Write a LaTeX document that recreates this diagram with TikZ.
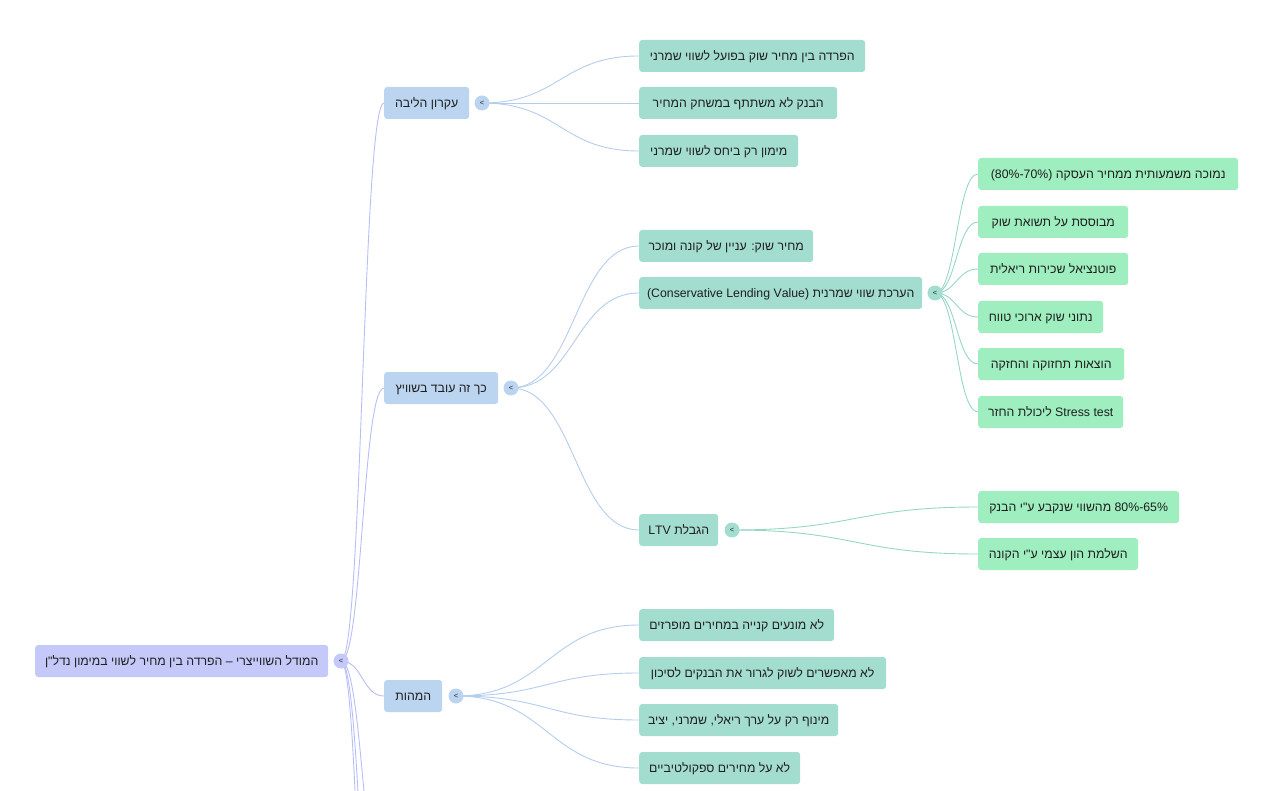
\documentclass[tikz,border=0pt]{standalone}
\usepackage{fontspec}
\newfontfamily\hebfont[Script=Hebrew]{Liberation Sans}
\TeXXeTstate=1
\newcommand{\hebtxt}[1]{\beginR #1\endR}
\definecolor{ink}{RGB}{31,31,31}
\definecolor{rootfill}{RGB}{196,201,250}
\definecolor{rootline}{RGB}{184,190,247}
\definecolor{topicfill}{RGB}{187,212,240}
\definecolor{topicline}{RGB}{180,205,238}
\definecolor{itemfill}{RGB}{163,221,208}
\definecolor{itemline}{RGB}{150,214,198}
\definecolor{leaffill}{RGB}{158,238,192}
\begin{document}
\begin{tikzpicture}[x=1pt, y=-1pt,
  box/.style={rounded corners=3pt, minimum height=32pt, inner xsep=0pt, anchor=west, text=ink, text height=9pt, text depth=0pt, font=\hebfont\fontsize{12.3}{14}\selectfont},
  rootbox/.style={box, fill=rootfill},
  topicbox/.style={box, fill=topicfill},
  itembox/.style={box, fill=itemfill},
  leafbox/.style={box, fill=leaffill},
  toggle/.style={circle, inner sep=0pt, minimum size=15pt, text=ink, font=\hebfont\fontsize{7.5}{8}\selectfont},
  rootlink/.style={draw=rootline, line width=0.9pt},
  topiclink/.style={draw=topicline, line width=0.9pt},
  itemlink/.style={draw=itemline, line width=0.9pt}]
\useasboundingbox (0,0) rectangle (1281,791);
% boxes
\node[rootbox, minimum width=293pt] (root) at (35,661) {\hebtxt{המודל השווייצרי – הפרדה בין מחיר לשווי במימון נדל"ן}};
\node[topicbox, minimum width=85pt] (core) at (384,103) {\hebtxt{עקרון הליבה}};
\node[topicbox, minimum width=114pt] (swiss) at (384,388) {\hebtxt{כך זה עובד בשוויץ}};
\node[topicbox, minimum width=58pt] (essence) at (384,696) {\hebtxt{המהות}};
\node[itembox, minimum width=226pt] (c1) at (639,56) {\hebtxt{הפרדה בין מחיר שוק בפועל לשווי שמרני}};
\node[itembox, minimum width=198pt] (c2) at (639,103) {\hebtxt{הבנק לא משתתף במשחק המחיר}};
\node[itembox, minimum width=159pt] (c3) at (639,151) {\hebtxt{מימון רק ביחס לשווי שמרני}};
\node[itembox, minimum width=174pt] (s1) at (639,246) {\hebtxt{מחיר שוק: עניין של קונה ומוכר}};
\node[itembox, minimum width=283pt] (s2) at (639,293) {\hebtxt{הערכת שווי שמרנית \beginL(Conservative Lending Value)\endL}};
\node[itembox, minimum width=79pt] (s3) at (639,530) {\hebtxt{הגבלת \beginL LTV\endL}};
\node[itembox, minimum width=195pt] (e1) at (639,625) {\hebtxt{לא מונעים קנייה במחירים מופרזים}};
\node[itembox, minimum width=247pt] (e2) at (639,673) {\hebtxt{לא מאפשרים לשוק לגרור את הבנקים לסיכון}};
\node[itembox, minimum width=199pt] (e3) at (639,720) {\hebtxt{מינוף רק על ערך ריאלי, שמרני, יציב}};
\node[itembox, minimum width=161pt] (e4) at (639,768) {\hebtxt{לא על מחירים ספקולטיביים}};
\node[leafbox, minimum width=260pt] (v1) at (978,174) {\hebtxt{נמוכה משמעותית ממחיר העסקה \beginL(70\%-80\%)\endL}};
\node[leafbox, minimum width=150pt] (v2) at (978,222) {\hebtxt{מבוססת על תשואת שוק}};
\node[leafbox, minimum width=150pt] (v3) at (978,269) {\hebtxt{פוטנציאל שכירות ריאלית}};
\node[leafbox, minimum width=125pt] (v4) at (978,317) {\hebtxt{נתוני שוק ארוכי טווח}};
\node[leafbox, minimum width=146pt] (v5) at (978,364) {\hebtxt{הוצאות תחזוקה והחזקה}};
\node[leafbox, minimum width=145pt] (v6) at (978,412) {\hebtxt{\beginL Stress test\endL{} ליכולת החזר}};
\node[leafbox, minimum width=201pt] (l1) at (978,507) {\hebtxt{\beginL 65\%-80\%\endL{} מהשווי שנקבע ע"י הבנק}};
\node[leafbox, minimum width=160pt] (l2) at (978,554) {\hebtxt{השלמת הון עצמי ע"י הקונה}};
% toggle points and branches running off the page
\coordinate (rt) at (341,661);
\coordinate (tc) at (482,103);
\coordinate (ts) at (511,388);
\coordinate (te) at (456,696);
\coordinate (tv) at (935,293);
\coordinate (tl) at (732,530);
\coordinate (o1) at (384,890);
\coordinate (o2) at (384,1097);
\coordinate (o3) at (384,1332);
% links
\draw[rootlink] (rt) .. controls +(21.5,0) and +(-21.5,0) .. (core.west);
\draw[rootlink] (rt) .. controls +(21.5,0) and +(-21.5,0) .. (swiss.west);
\draw[rootlink] (rt) .. controls +(21.5,0) and +(-21.5,0) .. (essence.west);
\draw[rootlink] (rt) .. controls +(21.5,0) and +(-21.5,0) .. (o1);
\draw[rootlink] (rt) .. controls +(21.5,0) and +(-21.5,0) .. (o2);
\draw[rootlink] (rt) .. controls +(21.5,0) and +(-21.5,0) .. (o3);
\draw[topiclink] (tc) .. controls +(78,0) and +(-78,0) .. (c1.west);
\draw[topiclink] (tc) .. controls +(78,0) and +(-78,0) .. (c2.west);
\draw[topiclink] (tc) .. controls +(78,0) and +(-78,0) .. (c3.west);
\draw[topiclink] (ts) .. controls +(64,0) and +(-64,0) .. (s1.west);
\draw[topiclink] (ts) .. controls +(64,0) and +(-64,0) .. (s2.west);
\draw[topiclink] (ts) .. controls +(64,0) and +(-64,0) .. (s3.west);
\draw[topiclink] (te) .. controls +(91,0) and +(-91,0) .. (e1.west);
\draw[topiclink] (te) .. controls +(91,0) and +(-91,0) .. (e2.west);
\draw[topiclink] (te) .. controls +(91,0) and +(-91,0) .. (e3.west);
\draw[topiclink] (te) .. controls +(91,0) and +(-91,0) .. (e4.west);
\foreach \n in {v1,v2,v3,v4,v5,v6}
  \draw[itemlink] (tv) .. controls +(21.5,0) and +(-21.5,0) .. (\n.west);
\draw[itemlink] (tl) .. controls +(123,0) and +(-123,0) .. (l1.west);
\draw[itemlink] (tl) .. controls +(123,0) and +(-123,0) .. (l2.west);
% toggles
\node[toggle, fill=rootfill] (rtg) at (rt) {>};
\node[toggle, fill=topicfill] (tcg) at (tc) {>};
\node[toggle, fill=topicfill] (tsg) at (ts) {>};
\node[toggle, fill=topicfill] (teg) at (te) {>};
\node[toggle, fill=itemfill] (tvg) at (tv) {>};
\node[toggle, fill=itemfill] (tlg) at (tl) {>};
\end{tikzpicture}
\end{document}
